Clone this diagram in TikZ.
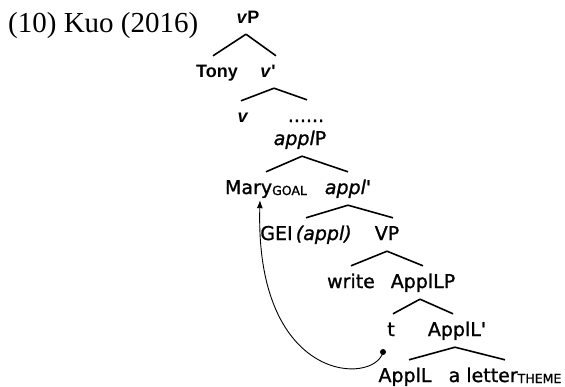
\documentclass[tikz,border=0pt]{standalone}
\usepackage{fontspec}
\setmainfont{Liberation Serif}
\newfontfamily\treefont[FakeBold=1.2]{DejaVu Sans}
\newfontfamily\topfont{Liberation Sans}
\usetikzlibrary{arrows.meta}
\begin{document}
\begin{tikzpicture}[x=1pt,y=-1pt,
  lbl/.style={anchor=base, inner xsep=0pt, inner ysep=8pt, text height=14pt, text depth=3pt,
    font=\treefont\fontsize{19}{21}\selectfont},
  toplbl/.style={lbl, text height=13pt, font=\topfont\bfseries\fontsize{18}{20}\selectfont},
  branch/.style={line width=1.6pt},
  move/.style={line width=0.9pt, -{Latex[length=8pt,width=6pt]}}]
\useasboundingbox (0,0) rectangle (565,386);
\newcommand{\smallsub}[1]{{\fontsize{12.5}{13}\selectfont\raisebox{-1pt}{#1}}}
% title
\node[anchor=base west, inner sep=0pt, font=\fontsize{29}{32}\selectfont] (title) at (8,32) {(10) Kuo (2016)};
% nodes
\node[toplbl] (vP) at (248,23) {\textit{v}P};
\node[toplbl] (Tony) at (217,77) {Tony};
\node[toplbl] (vbar) at (268,77) {\textit{v}'};
\node[toplbl] (v) at (243,122) {\textit{v}};
\node[lbl] (dots) at (306,122) {......};
\node[lbl] (applP) at (300,145) {\textit{appl}P};
\node[lbl] (Mary) at (266,194) {Mary\smallsub{GOAL}};
\node[lbl] (applbar) at (348,194) {\textit{appl}'};
\node[lbl] (GEI) at (306,240) {GEI\,\textit{(appl)}};
\node[lbl] (VP) at (387,240) {VP};
\node[lbl] (write) at (351,288) {write};
\node[lbl] (ApplLP) at (423,288) {ApplLP};
\node[lbl] (t) at (391,336) {t};
\node[lbl] (ApplLbar) at (457,336) {ApplL'};
\node[lbl] (ApplL) at (405,382) {ApplL};
\node[lbl] (letter) at (505,382) {a letter\smallsub{THEME}};
% branches
\draw[branch] ([xshift=-2pt]vP.south) -- ([xshift=-4pt]Tony.north);
\draw[branch] ([xshift=-2pt]vP.south) -- ([xshift=8pt]vbar.north);
\draw[branch] ([xshift=6pt]vbar.south) -- ([xshift=-2pt]v.north);
\draw[branch] ([xshift=6pt]vbar.south) -- ([xshift=1pt]dots.north);
\draw[branch] ([xshift=2pt]applP.south) -- (Mary.north);
\draw[branch] ([xshift=2pt]applP.south) -- (applbar.north);
\draw[branch] (applbar.south) -- (GEI.north);
\draw[branch] (applbar.south) -- ([xshift=6pt]VP.north);
\draw[branch] (VP.south) -- (write.north);
\draw[branch] (VP.south) -- (ApplLP.north);
\draw[branch] ([xshift=-3pt]ApplLP.south) -- ([xshift=2pt]t.north);
\draw[branch] ([xshift=-3pt]ApplLP.south) -- ([xshift=-4pt]ApplLbar.north);
\draw[branch] ([xshift=-2pt]ApplLbar.south) -- ([xshift=4pt]ApplL.north);
\draw[branch] ([xshift=-2pt]ApplLbar.south) -- (letter.north);
% movement arrow
\coordinate (trace) at (383,352);
\fill (trace) circle (3pt);
\draw[move] (trace) .. controls (375,385) and (255,385) .. ([xshift=-6pt,yshift=5pt]Mary.south);
\end{tikzpicture}
\end{document}
